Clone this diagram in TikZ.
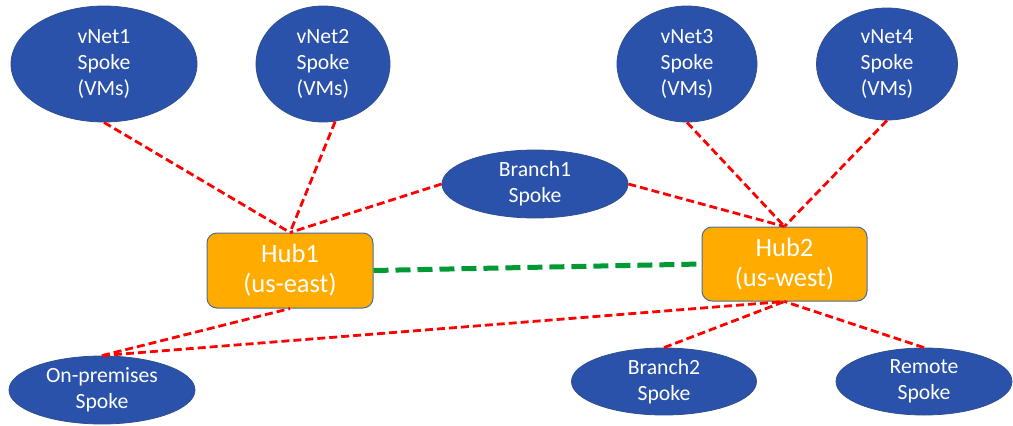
\documentclass[tikz,border=0pt]{standalone}
\usepackage{fontspec}
\setmainfont{Carlito}
\usetikzlibrary{shapes.geometric}
\definecolor{spokeblue}{HTML}{2A52AB}
\definecolor{spokeedge}{HTML}{2F4F8F}
\definecolor{hubfill}{HTML}{FFAB00}
\definecolor{hubedge}{HTML}{4A6E96}
\definecolor{linkred}{HTML}{FF0000}
\definecolor{peergreen}{HTML}{009A35}
\begin{document}
\begin{tikzpicture}[x=1pt,y=-1pt,
 spoke/.style={ellipse, fill=spokeblue, draw=spokeedge, line width=0.8pt, inner sep=0pt, text=white, font=\fontsize{21.7}{26}\selectfont, align=center},
 hub/.style={rectangle, rounded corners=10pt, fill=hubfill, draw=hubedge, line width=1pt, text=white, font=\fontsize{26.5}{30}\selectfont, align=center, inner sep=0pt},
 link/.style={draw=linkred, line width=2.8pt, dash pattern=on 8pt off 4pt},
 peer/.style={draw=peergreen, line width=5pt, dash pattern=on 15pt off 7pt}]
\useasboundingbox (0,0) rectangle (1013,426);
\node[spoke, minimum width=186pt, minimum height=116pt] (v1) at (104,64) {vNet1\\Spoke\\(VMs)};
\node[spoke, minimum width=134pt, minimum height=116pt] (v2) at (323,64) {vNet2\\Spoke\\(VMs)};
\node[spoke, minimum width=140pt, minimum height=116pt] (v3) at (687,64) {vNet3\\Spoke\\(VMs)};
\node[spoke, minimum width=141pt, minimum height=112pt] (v4) at (887,64) {vNet4\\Spoke\\(VMs)};
\node[spoke, minimum width=186pt, minimum height=68pt] (b1) at (535,184) {Branch1\\Spoke};
\node[spoke, minimum width=186pt, minimum height=68pt] (op) at (102,390) {On-premises\\Spoke};
\node[spoke, minimum width=185pt, minimum height=67pt] (b2) at (664,381.5) {Branch2\\Spoke};
\node[spoke, minimum width=176pt, minimum height=67pt] (rs) at (924,381.5) {Remote\\Spoke};
\node[hub, minimum width=166pt, minimum height=75pt] (h1) at (290,270.5) {Hub1\\(us-east)};
\node[hub, minimum width=165pt, minimum height=74pt] (h2) at (784.5,264) {Hub2\\(us-west)};
\draw[link] (v1.south) -- (h1.north);
\draw[link] (v2.-78) -- (h1.north);
\draw[link] (b1.west) -- (h1.north);
\draw[link] (b1.east) -- (h2.north);
\draw[link] (v3.south) -- (h2.north);
\draw[link] (v4.south) -- (h2.north);
\draw[link] (op.north) -- (h1.south);
\draw[link] (op.north) -- (h2.south);
\draw[link] (b2.north) -- (h2.south);
\draw[link] (rs.north) -- (h2.south);
\draw[peer] (h1.east) -- (h2.west);
\end{tikzpicture}
\end{document}
